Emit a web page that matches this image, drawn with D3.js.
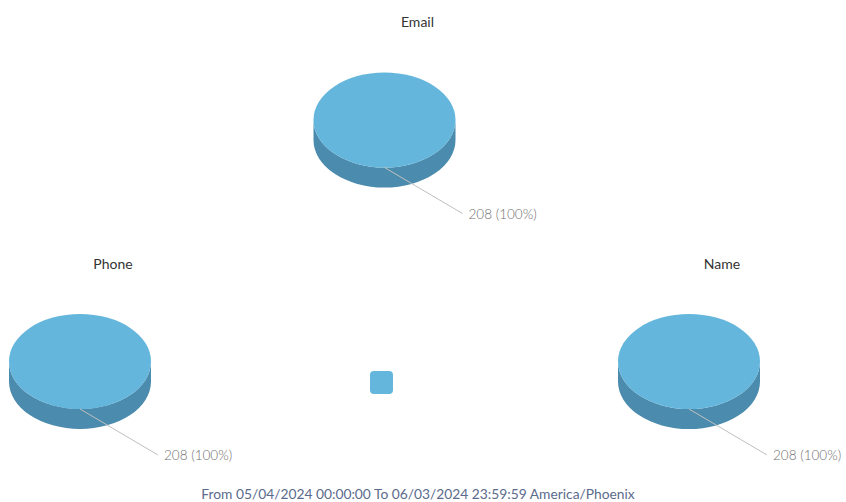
<!DOCTYPE html>
<html><head><meta charset="utf-8">
<script src="https://cdn.jsdelivr.net/npm/d3@7"></script>
<style>
html,body{margin:0;padding:0;background:#fff;}
svg{display:block;font-family:Lato,"Open Sans",sans-serif;}
</style></head>
<body><svg id="c" width="846" height="502"></svg>
<script>
const charts = ["Email", "Phone", "Name"];
const values = [208, 208, 208];
const sliceLabels = ["208 (100%)", "208 (100%)", "208 (100%)"];
const footer = "From 05/04/2024 00:00:00 To 06/03/2024 23:59:59 America/Phoenix";

const svg = d3.select("#c");
const W = 846, H = 502;
const topColor = "#65b6dc", sideColor = "#4b8bad";
const rx = 71, ry = 47.5, depth = 20;

const xPos = d3.scalePoint().domain(["Phone","Email","Name"]).range([80, 689]);
const yPos = d3.scaleOrdinal().domain(["Email","Phone","Name"]).range([120, 361.5, 361.5]);

function pt(cx, cy, a, dy){
  return [cx + rx*Math.sin(a), cy - ry*Math.cos(a) + (dy||0)];
}
function topPath(cx, cy, s){
  if (s.endAngle - s.startAngle >= 2*Math.PI - 1e-6){
    return `M${cx-rx},${cy}A${rx},${ry} 0 1 0 ${cx+rx},${cy}A${rx},${ry} 0 1 0 ${cx-rx},${cy}Z`;
  }
  const p0 = pt(cx,cy,s.startAngle), p1 = pt(cx,cy,s.endAngle);
  const large = (s.endAngle - s.startAngle) > Math.PI ? 1 : 0;
  return `M${cx},${cy}L${p0}A${rx},${ry} 0 ${large} 1 ${p1}Z`;
}
function sidePath(cx, cy, s){
  const a0 = Math.max(s.startAngle, Math.PI/2), a1 = Math.min(s.endAngle, 3*Math.PI/2);
  if (a1 <= a0) return null;
  const p0 = pt(cx,cy,a0), p1 = pt(cx,cy,a1);
  const q0 = pt(cx,cy,a0,depth), q1 = pt(cx,cy,a1,depth);
  return `M${p0}A${rx},${ry} 0 0 1 ${p1}L${q1}A${rx},${ry} 0 0 0 ${q0}Z`;
}

const pie = d3.pie().sort(null).value(d => d);

charts.forEach((name, i) => {
  const cx = xPos(name), cy = yPos(name);
  const g = svg.append("g");
  const slices = pie([values[i]]);
  g.append("text").attr("x", cx + 33).attr("y", cy - 93)
    .attr("text-anchor","middle").attr("font-size", 14).attr("fill","#333").text(name);
  slices.forEach(s => {
    const sp = sidePath(cx, cy, s);
    if (sp) g.append("path").attr("d", sp).attr("fill", sideColor);
    g.append("path").attr("d", topPath(cx, cy, s)).attr("fill", topColor);
    const mid = (s.startAngle + s.endAngle)/2;
    const p = pt(cx, cy, mid);
    const lx = p[0] + 78, ly = p[1] + 46;
    g.append("path").attr("d", `M${p}L${lx},${ly}`)
      .attr("stroke","#c0c0c0").attr("stroke-width",1).attr("fill","none");
    g.append("text").attr("x", lx + 6).attr("y", ly + 5)
      .attr("font-size", 13.5).attr("fill","#707070").attr("font-weight",300).text(sliceLabels[i]);
  });
});

svg.append("rect").attr("x", 370).attr("y", 371).attr("width", 23).attr("height", 23)
  .attr("rx", 4).attr("fill", topColor);

svg.append("text").attr("x", 418).attr("y", 499).attr("text-anchor","middle")
  .attr("font-size", 13.8).attr("fill","#5b6b8c").text(footer);
</script></body></html>
